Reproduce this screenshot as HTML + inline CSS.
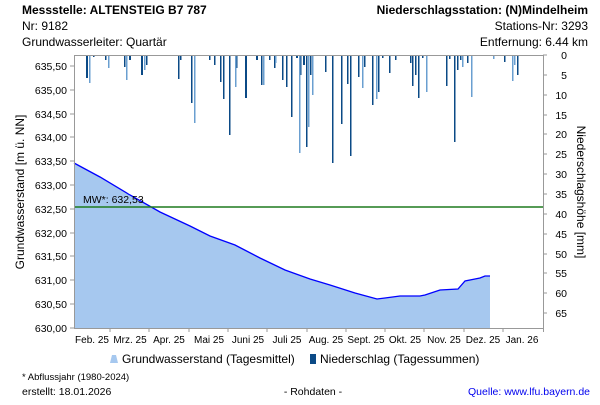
<!DOCTYPE html>
<html><head><meta charset="utf-8"><style>
body{margin:0;background:#fff;font-family:"Liberation Sans",sans-serif;}
svg text{font-family:"Liberation Sans",sans-serif;}
</style></head><body>
<svg width="600" height="400" xmlns="http://www.w3.org/2000/svg">
<text x="22" y="14" font-size="12" font-weight="bold" fill="#000">Messstelle: ALTENSTEIG B7 787</text>
<text x="22" y="30" font-size="12" fill="#000">Nr: 9182</text>
<text x="22" y="46" font-size="12" fill="#000">Grundwasserleiter: Quartär</text>
<text x="588" y="14" font-size="12" font-weight="bold" fill="#000" text-anchor="end">Niederschlagsstation: (N)Mindelheim</text>
<text x="588" y="30" font-size="12" fill="#000" text-anchor="end">Stations-Nr: 3293</text>
<text x="588" y="46" font-size="12" fill="#000" text-anchor="end">Entfernung: 6.44 km</text>

<path d="M74,163 L100,177 L130,195 L160,212 L190,226 L210,236 L235,245 L260,258 L285,270 L310,279 L330,285 L355,293 L377,299 L385,298 L400,296 L420,296 L425,295 L440,290 L458,289 L465,281 L475,279 L480,278 L485,276 L490,276 L490,328 L74,328 Z" fill="#a6c8ef"/>
<path d="M74,163 L100,177 L130,195 L160,212 L190,226 L210,236 L235,245 L260,258 L285,270 L310,279 L330,285 L355,293 L377,299 L385,298 L400,296 L420,296 L425,295 L440,290 L458,289 L465,281 L475,279 L480,278 L485,276 L490,276" fill="none" stroke="#0000ff" stroke-width="1.3"/>
<line x1="74" y1="207" x2="543" y2="207" stroke="#1e7a1e" stroke-width="1.5"/>
<text x="83" y="203" font-size="10.5" fill="#000">MW*: 632,53</text>

<g fill="#0b4a86">
<rect x="86" y="55" width="2" height="23"/><rect x="93" y="55" width="1.5" height="2"/><rect x="105" y="55" width="1.5" height="5"/><rect x="124" y="55" width="1.5" height="12"/><rect x="129" y="55" width="2" height="5"/><rect x="141" y="55" width="2" height="20"/><rect x="146" y="55" width="1.5" height="10"/><rect x="178" y="55" width="1.5" height="24"/><rect x="180" y="55" width="1.5" height="5"/><rect x="191" y="55" width="1.5" height="48"/><rect x="209" y="55" width="1.5" height="5"/><rect x="214" y="55" width="1.5" height="10"/><rect x="220" y="55" width="1.5" height="27"/><rect x="223" y="55" width="1.5" height="44"/><rect x="229" y="55" width="1.5" height="80"/><rect x="236" y="55" width="1.5" height="13"/><rect x="245" y="55" width="2" height="43"/><rect x="256" y="55" width="2" height="5"/><rect x="261" y="55" width="1.5" height="30"/><rect x="269" y="55" width="1.5" height="5"/><rect x="274" y="55" width="1.5" height="13"/><rect x="282" y="55" width="1.5" height="25"/><rect x="286" y="55" width="1.5" height="32"/><rect x="291" y="55" width="1.5" height="62"/><rect x="296" y="55" width="2" height="3"/><rect x="300" y="55" width="1.5" height="20"/><rect x="303" y="55" width="2" height="10"/><rect x="306" y="55" width="1.5" height="92"/><rect x="310" y="55" width="1.5" height="20"/><rect x="325" y="55" width="1.5" height="17"/><rect x="332" y="55" width="1.5" height="108"/><rect x="341" y="55" width="1.5" height="69"/><rect x="347" y="55" width="1.5" height="29"/><rect x="350" y="55" width="1.5" height="101"/><rect x="358" y="55" width="1.5" height="22"/><rect x="364" y="55" width="1.5" height="12"/><rect x="372" y="55" width="1.5" height="50"/><rect x="378" y="55" width="1.5" height="37"/><rect x="382" y="55" width="1.5" height="3"/><rect x="389" y="55" width="1.5" height="18"/><rect x="395" y="55" width="1.5" height="5"/><rect x="410" y="55" width="1.5" height="8"/><rect x="412" y="55" width="1.5" height="31"/><rect x="415" y="55" width="1.5" height="20"/><rect x="418" y="55" width="1.5" height="43"/><rect x="422" y="55" width="1.5" height="3"/><rect x="446" y="55" width="1.5" height="31"/><rect x="449" y="55" width="1.5" height="4"/><rect x="454" y="55" width="1.5" height="87"/><rect x="457" y="55" width="1.5" height="15"/><rect x="460" y="55" width="1.5" height="5"/><rect x="467" y="55" width="1.5" height="8"/><rect x="504" y="55" width="1.5" height="7"/><rect x="517" y="55" width="1.5" height="20"/>
</g>
<g fill="#6a9fd0">
<rect x="89" y="55" width="1.5" height="28"/><rect x="108" y="55" width="1.5" height="13"/><rect x="126" y="55" width="1.5" height="25"/><rect x="144" y="55" width="1.5" height="15"/><rect x="194" y="55" width="1.5" height="68"/><rect x="235" y="55" width="1.5" height="32"/><rect x="263" y="55" width="1.5" height="30"/><rect x="275" y="55" width="1.5" height="8"/><rect x="299" y="55" width="1.5" height="98"/><rect x="308" y="55" width="1.5" height="72"/><rect x="312" y="55" width="1.5" height="40"/><rect x="362" y="55" width="1.5" height="33"/><rect x="376" y="55" width="1.5" height="44"/><rect x="426" y="55" width="1.5" height="37"/><rect x="462" y="55" width="1.5" height="12"/><rect x="471" y="55" width="1.5" height="42"/><rect x="493" y="55" width="1.5" height="4"/><rect x="512" y="55" width="1.5" height="26"/><rect x="514" y="55" width="1.5" height="10"/>
</g>

<g stroke="#999" stroke-width="1" fill="none">
<line x1="74.5" y1="55" x2="74.5" y2="328"/>
<line x1="74" y1="328.5" x2="543" y2="328.5"/>
<line x1="543.5" y1="55" x2="543.5" y2="332"/>
<line x1="74" y1="55.5" x2="543" y2="55.5"/>
</g>
<g stroke="#999" stroke-width="1">
<line x1="70" y1="66" x2="74" y2="66"/><line x1="70" y1="90" x2="74" y2="90"/><line x1="70" y1="114" x2="74" y2="114"/><line x1="70" y1="137" x2="74" y2="137"/><line x1="70" y1="161" x2="74" y2="161"/><line x1="70" y1="185" x2="74" y2="185"/><line x1="70" y1="209" x2="74" y2="209"/><line x1="70" y1="233" x2="74" y2="233"/><line x1="70" y1="256" x2="74" y2="256"/><line x1="70" y1="280" x2="74" y2="280"/><line x1="70" y1="304" x2="74" y2="304"/><line x1="70" y1="328" x2="74" y2="328"/>
<line x1="543" y1="55" x2="547" y2="55"/><line x1="543" y1="75" x2="547" y2="75"/><line x1="543" y1="95" x2="547" y2="95"/><line x1="543" y1="115" x2="547" y2="115"/><line x1="543" y1="134" x2="547" y2="134"/><line x1="543" y1="154" x2="547" y2="154"/><line x1="543" y1="174" x2="547" y2="174"/><line x1="543" y1="194" x2="547" y2="194"/><line x1="543" y1="214" x2="547" y2="214"/><line x1="543" y1="234" x2="547" y2="234"/><line x1="543" y1="254" x2="547" y2="254"/><line x1="543" y1="273" x2="547" y2="273"/><line x1="543" y1="293" x2="547" y2="293"/><line x1="543" y1="313" x2="547" y2="313"/>
<line x1="110" y1="328" x2="110" y2="332"/><line x1="149" y1="328" x2="149" y2="332"/><line x1="189" y1="328" x2="189" y2="332"/><line x1="228" y1="328" x2="228" y2="332"/><line x1="267" y1="328" x2="267" y2="332"/><line x1="307" y1="328" x2="307" y2="332"/><line x1="346" y1="328" x2="346" y2="332"/><line x1="385" y1="328" x2="385" y2="332"/><line x1="424" y1="328" x2="424" y2="332"/><line x1="464" y1="328" x2="464" y2="332"/><line x1="503" y1="328" x2="503" y2="332"/>
</g>
<g font-size="10.5" fill="#000" text-anchor="end">
<text x="67" y="70">635,50</text><text x="67" y="94">635,00</text><text x="67" y="118">634,50</text><text x="67" y="141">634,00</text><text x="67" y="165">633,50</text><text x="67" y="189">633,00</text><text x="67" y="213">632,50</text><text x="67" y="237">632,00</text><text x="67" y="260">631,50</text><text x="67" y="284">631,00</text><text x="67" y="308">630,50</text><text x="67" y="332">630,00</text>
</g>
<g font-size="10.5" fill="#000" text-anchor="end">
<text x="567" y="59">0</text><text x="567" y="79">5</text><text x="567" y="99">10</text><text x="567" y="119">15</text><text x="567" y="138">20</text><text x="567" y="158">25</text><text x="567" y="178">30</text><text x="567" y="198">35</text><text x="567" y="218">40</text><text x="567" y="238">45</text><text x="567" y="258">50</text><text x="567" y="277">55</text><text x="567" y="297">60</text><text x="567" y="317">65</text>
</g>
<g font-size="10" fill="#000" text-anchor="middle">
<text x="92" y="343">Feb. 25</text><text x="130" y="343">Mrz. 25</text><text x="169" y="343">Apr. 25</text><text x="209" y="343">Mai 25</text><text x="248" y="343">Juni 25</text><text x="287" y="343">Juli 25</text><text x="326" y="343">Aug. 25</text><text x="366" y="343">Sept. 25</text><text x="405" y="343">Okt. 25</text><text x="444" y="343">Nov. 25</text><text x="483" y="343">Dez. 25</text><text x="522" y="343">Jan. 26</text>
</g>
<text transform="translate(24,192) rotate(-90)" font-size="12" text-anchor="middle" fill="#000">Grundwasserstand [m ü. NN]</text>
<text transform="translate(577,192) rotate(90)" font-size="12" text-anchor="middle" fill="#000">Niederschlagshöhe [mm]</text>

<path d="M110,363 L112,355 L116,355 L118,363 Z" fill="#a6c8ef"/>
<text x="122" y="363" font-size="12" fill="#000">Grundwasserstand (Tagesmittel)</text>
<rect x="310" y="354" width="6" height="10" fill="#0b4a86"/>
<text x="320" y="363" font-size="12" fill="#000">Niederschlag (Tagessummen)</text>

<text x="22" y="380" font-size="9.5" fill="#000">* Abflussjahr (1980-2024)</text>
<text x="22" y="395" font-size="10.5" fill="#000">erstellt:  18.01.2026</text>
<text x="313" y="395" font-size="10.5" fill="#000" text-anchor="middle">- Rohdaten -</text>
<text x="590" y="395" font-size="10.5" fill="#0000ee" text-anchor="end">Quelle: www.lfu.bayern.de</text>
</svg>
</body></html>
